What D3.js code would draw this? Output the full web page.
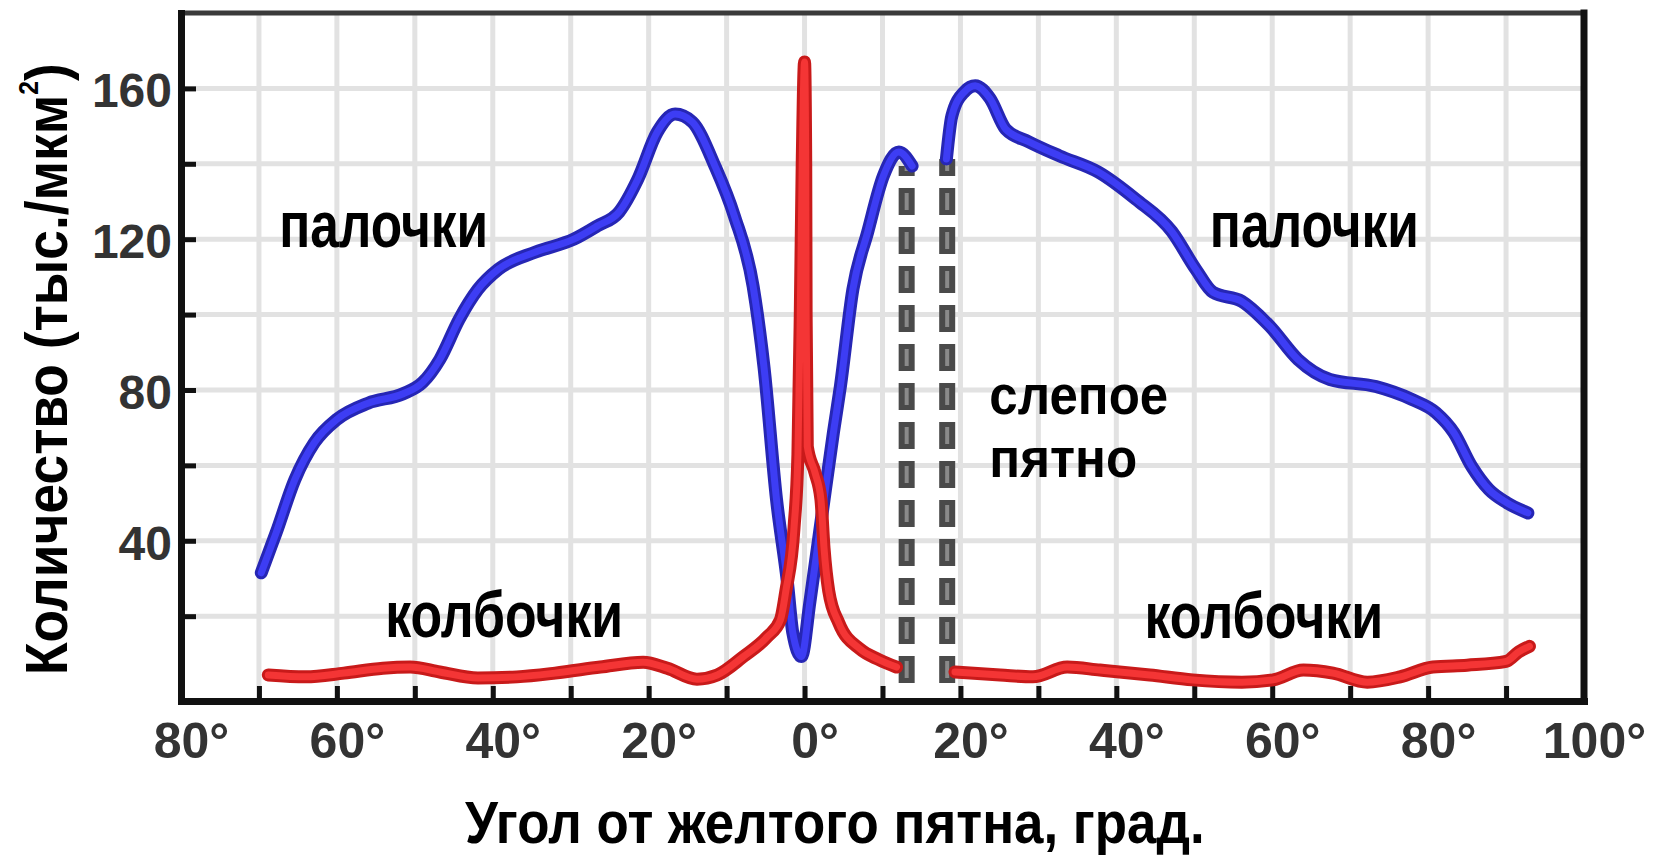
<!DOCTYPE html>
<html><head><meta charset="utf-8">
<script src="https://cdn.jsdelivr.net/npm/d3@7"></script>
<style>
html,body{margin:0;padding:0;background:#fff;}
svg{display:block;}
</style></head>
<body>
<svg id="chart" width="1655" height="855"></svg>
<script>
// ---------- data (angle in degrees, density in thousands / mm^2) ----------
const rodsLeftX  = [-69.7,-67.8,-65.4,-62.9,-60.0,-56.0,-51.5,-49.0,-46.8,-44.3,-41.9,-39.3,-34.5,-29.6,-26.6,-23.8,-21.4,-18.9,-16.6,-14.4,-11.5,-9.0,-6.6,-5.2,-3.6,-2.2,-1.5,-0.4,0.7,2.2,3.7,4.6,6.2,8.1,10.1,12.1,13.8];
const rodsLeftY  = [31.5,42.1,56.2,66.0,72.2,76.5,79.0,82.0,88.1,98.8,106.7,112.0,116.6,120.0,123.5,127.2,135.9,148.4,153.2,151.1,139.4,126.1,107.5,86.0,51.0,29.0,15.5,9.3,24.0,46.4,68.7,81.0,106.7,121.9,136.7,143.1,139.4];
const rodsRightX = [18.2,18.9,20.5,21.9,23.8,25.8,28.8,32.7,37.7,42.5,47.1,50.2,52.4,56.1,59.7,63.3,67.4,73.3,77.9,81.0,83.3,85.6,87.8,90.1,92.8];
const rodsRightY = [141.3,152.7,159.1,160.7,157.3,149.2,145.8,142.1,137.8,130.6,122.1,112.0,105.9,103.5,96.9,88.1,82.8,80.9,77.5,74.0,68.7,59.7,53.6,50.1,47.4];
const conesLeftX = [-68.8,-64.0,-59.1,-54.1,-50.6,-46.8,-41.9,-36.9,-32.0,-26.2,-20.7,-17.6,-13.8,-11.2,-7.9,-4.8,-3.1,-2.4,-1.35,-0.85,-0.55,-0.3,0.0,0.15,0.2,0.35,1.35,2.1,2.5,3.1,4.4,7.1,9.5,11.8];
const conesLeftY = [4.4,3.9,4.9,6.2,6.5,5.2,3.6,3.9,4.9,6.5,7.8,6.2,3.3,4.4,9.2,14.5,19.0,26.7,43.5,63.0,100.0,140.0,167.0,140.0,100.0,65.0,58.0,51.0,38.0,26.7,18.2,11.3,8.5,6.5];
const conesRightX = [19.3,25.1,29.3,33.7,37.9,44.3,49.8,56.1,60.1,64.0,67.8,72.2,76.4,80.6,85.0,90.0,91.6,93.0];
const conesRightY = [5.2,4.4,3.9,6.5,5.7,4.4,3.1,2.5,3.1,5.7,4.9,2.5,3.9,6.5,7.0,8.0,10.5,12.0];
const blindSpotX   = [13.1, 18.3];
const blindSpotTop = [139.4, 141.3];
const blindSpotBottom = 2.3;

const yTickValues  = [20,40,60,80,100,120,140,160];
const yLabelValues = [40,80,120,160];
const yTickLabels  = ["40","80","120","160"];
const xTickValues  = [-80,-70,-60,-50,-40,-30,-20,-10,0,10,20,30,40,50,60,70,80,90,100];
const xLabelValues = [-80,-60,-40,-20,0,20,40,60,80,100];
const xTickLabels  = ["80°","60°","40°","20°","0°","20°","40°","60°","80°","100°"];
const xGridValues  = [-70,-60,-50,-40,-30,-20,-10,0,10,20,30,40,50,60,70,80,90];

const labelTexts = ["палочки","палочки","колбочки","колбочки"];
const blindSpotLines = ["слепое","пятно"];
const xTitle = "Угол от желтого пятна, град.";
const yTitleMain = "Количество (тыс./мкм";

// ---------- layout ----------
const FONT = "'Liberation Sans', Arial, Helvetica, sans-serif";
const svg = d3.select("#chart");
const x = d3.scaleLinear().domain([-80, 100]).range([181, 1584]);
const y = d3.scaleLinear().domain([-2.5, 180]).range([701, 13]);

// grid
svg.append("g").selectAll("line").data(xGridValues).join("line")
  .attr("x1", d => x(d)).attr("x2", d => x(d))
  .attr("y1", y(180)).attr("y2", y(-2.5))
  .attr("stroke", "#e2e2e2").attr("stroke-width", 5);
svg.append("g").selectAll("line").data(yTickValues).join("line")
  .attr("x1", x(-80)).attr("x2", x(100))
  .attr("y1", d => y(d)).attr("y2", d => y(d))
  .attr("stroke", "#e2e2e2").attr("stroke-width", 5);

// top & right border
svg.append("line").attr("x1", x(-80)).attr("x2", x(100)).attr("y1", y(180)).attr("y2", y(180))
  .attr("stroke", "#3a3a3a").attr("stroke-width", 5).attr("stroke-linecap", "square");
svg.append("line").attr("x1", x(100)).attr("x2", x(100)).attr("y1", y(180)).attr("y2", y(-2.5))
  .attr("stroke", "#111").attr("stroke-width", 7).attr("stroke-linecap", "square");

// axes
const yAxis = d3.axisLeft(y).tickValues(yTickValues).tickSizeInner(-15).tickSizeOuter(0).tickPadding(9)
  .tickFormat(d => { const i = yLabelValues.indexOf(d); return i >= 0 ? yTickLabels[i] : ""; });
const gy = svg.append("g").attr("transform", `translate(${x(-80)},0)`).call(yAxis);
gy.select(".domain").attr("stroke", "#111").attr("stroke-width", 7).attr("stroke-linecap", "square");
gy.selectAll(".tick line").attr("stroke", "#111").attr("stroke-width", 5);
gy.selectAll(".tick text").attr("font-family", FONT).attr("font-size", 48).attr("font-weight", "bold")
  .attr("fill", "#333").attr("dy", "0.38em");

const xAxis = d3.axisBottom(x).tickValues(xTickValues).tickSizeInner(-15).tickSizeOuter(0).tickPadding(21)
  .tickFormat(d => { const i = xLabelValues.indexOf(d); return i >= 0 ? xTickLabels[i] : ""; });
const gx = svg.append("g").attr("transform", `translate(0,${y(-2.5)})`).call(xAxis);
gx.select(".domain").attr("stroke", "#111").attr("stroke-width", 7).attr("stroke-linecap", "square");
gx.selectAll(".tick line").attr("stroke", "#111").attr("stroke-width", 5);
gx.selectAll(".tick text").attr("font-family", FONT).attr("font-size", 50).attr("font-weight", "bold")
  .attr("fill", "#333").attr("dx", "0.2em");

// blind spot dashed lines
blindSpotX.forEach((bx, i) => {
  svg.append("line").attr("x1", x(bx)).attr("x2", x(bx))
    .attr("y1", y(blindSpotBottom)).attr("y2", y(blindSpotTop[i]))
    .attr("stroke", "#4a4a4a").attr("stroke-width", 16).attr("stroke-dasharray", "27 12");
  svg.append("line").attr("x1", x(bx)).attr("x2", x(bx))
    .attr("y1", y(blindSpotBottom)).attr("y2", y(blindSpotTop[i]))
    .attr("stroke", "#8a8a8a").attr("stroke-width", 4).attr("stroke-dasharray", "17 22").attr("stroke-dashoffset", -5);
});

// curves
const line = d3.line().x(d => x(d[0])).y(d => y(d[1])).curve(d3.curveMonotoneX);
function series(xs, ys, outer, inner) {
  const pts = d3.zip(xs, ys);
  svg.append("path").attr("d", line(pts)).attr("fill", "none").attr("stroke", outer)
    .attr("stroke-width", 13).attr("stroke-linecap", "round").attr("stroke-linejoin", "round");
  svg.append("path").attr("d", line(pts)).attr("fill", "none").attr("stroke", inner)
    .attr("stroke-width", 7).attr("stroke-linecap", "round").attr("stroke-linejoin", "round");
}
series(rodsLeftX, rodsLeftY, "#2626b4", "#3d3df4");
series(rodsRightX, rodsRightY, "#2626b4", "#3d3df4");
series(conesLeftX, conesLeftY, "#c81a1a", "#f43535");
series(conesRightX, conesRightY, "#c81a1a", "#f43535");

// text helper: fit to width with horizontal scaling
function fitText(px, py, width, size, build, rotate) {
  const g = svg.append("g");
  const t = g.append("text").attr("font-family", FONT).attr("font-weight", "bold")
    .attr("font-size", size).attr("fill", "#000").attr("x", 0).attr("y", 0);
  build(t);
  const w = t.node().getComputedTextLength();
  const sx = width / w;
  g.attr("transform", `translate(${px},${py})` + (rotate ? ` rotate(${rotate})` : "") + ` scale(${sx},1)`);
  return g;
}

const labelPos = [[-67.4,117.9,209],[52.0,117.9,209],[-53.8,14.5,238],[43.6,14.2,239]];
labelTexts.forEach((s, i) => {
  const p = labelPos[i];
  fitText(x(p[0]), y(p[1]), p[2], 64, t => t.text(s));
});

// blind spot label (two lines, sized so their boxes do not overlap)
const blindLabelPos = [[23.7, 73.5, 179], [23.7, 57.0, 148]];
blindSpotLines.forEach((s, i) => {
  const p = blindLabelPos[i];
  fitText(x(p[0]), y(p[1]), p[2], 55, t => t.text(s));
});

// axis titles
fitText(465, 843, 740, 60, t => t.text(xTitle));
fitText(67, 675, 612, 60, t => {
  t.append("tspan").text(yTitleMain);
  t.append("tspan").attr("font-size", 28).attr("dy", -29).text("2");
  t.append("tspan").attr("dy", 29).text(")");
}, -90);
</script>
</body></html>
